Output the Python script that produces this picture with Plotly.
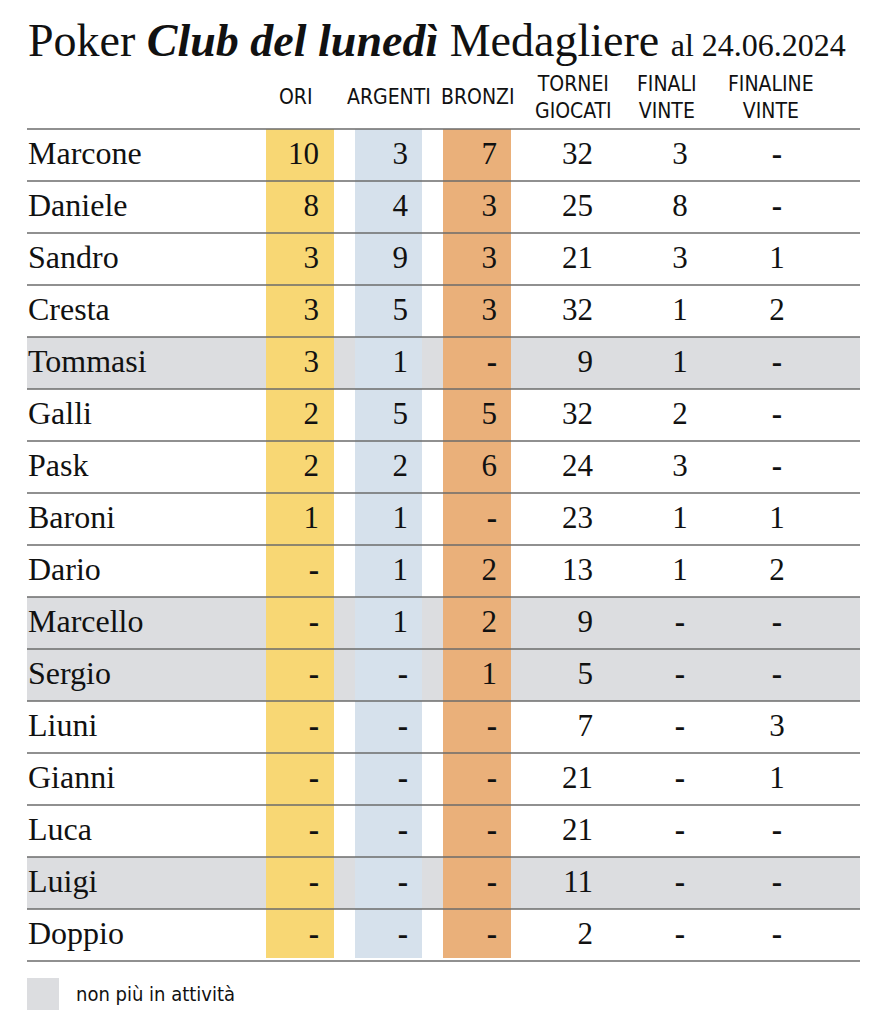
import plotly.graph_objects as go

# Dati del medagliere
nomi = ["Marcone", "Daniele", "Sandro", "Cresta", "Tommasi", "Galli", "Pask", "Baroni",
        "Dario", "Marcello", "Sergio", "Liuni", "Gianni", "Luca", "Luigi", "Doppio"]
ori = [10, 8, 3, 3, 3, 2, 2, 1, None, None, None, None, None, None, None, None]
argenti = [3, 4, 9, 5, 1, 5, 2, 1, 1, 1, None, None, None, None, None, None]
bronzi = [7, 3, 3, 3, None, 5, 6, None, 2, 2, 1, None, None, None, None, None]
tornei = [32, 25, 21, 32, 9, 32, 24, 23, 13, 9, 5, 7, 21, 21, 11, 2]
finali = [3, 8, 3, 1, 1, 2, 3, 1, 1, None, None, None, None, None, None, None]
finaline = [None, None, 1, 2, None, None, None, 1, 2, None, None, 3, 1, None, None, None]
non_attivi = ["Tommasi", "Marcello", "Sergio", "Luigi"]

intestazioni = ["ORI", "ARGENTI", "BRONZI", "TORNEI<br>GIOCATI", "FINALI<br>VINTE", "FINALINE<br>VINTE"]

SERIF = "Liberation Serif"
NARROW = "DejaVu Sans Condensed"

top = 129
row_h = 52
y_rows = [top + row_h * (i + 0.5) + 1 for i in range(len(nomi))]


def fmt(v):
    return "<b>-</b>" if v is None else str(v)


fig = go.Figure()
shapes = []

# righe grigie per i non più in attività
for i, n in enumerate(nomi):
    if n in non_attivi:
        shapes.append(dict(type="rect", x0=27, x1=860, y0=top + i * row_h, y1=top + (i + 1) * row_h,
                           fillcolor="#dcdde0", line_width=0, layer="below"))

# colonne colorate
for x0, x1, col in [(266, 334, "#f8d774"), (355, 422, "#d6e1ec"), (443, 511, "#eab07a")]:
    shapes.append(dict(type="rect", x0=x0, x1=x1, y0=top, y1=top + len(nomi) * row_h - 3,
                       fillcolor=col, line_width=0, layer="below"))

# linee
for i in range(len(nomi) + 1):
    shapes.append(dict(type="line", x0=27, x1=860, y0=top + i * row_h, y1=top + i * row_h,
                       line=dict(color="#6b6b6b", width=1.6)))

# legenda
shapes.append(dict(type="rect", x0=27, x1=59, y0=978, y1=1010, fillcolor="#dcdde0", line_width=0))

# nomi
fig.add_trace(go.Scatter(x=[28] * len(nomi), y=y_rows, mode="text", text=nomi,
                         textposition="middle right",
                         textfont=dict(family=SERIF, size=32, color="#111111"),
                         hoverinfo="skip", showlegend=False))

# colonne numeriche: (valori, x, allineamento)
colonne = [(ori, 319, "middle left"), (argenti, 408, "middle left"), (bronzi, 497, "middle left"),
           (tornei, 593, "middle left"), (finali, 680, "middle center"), (finaline, 777, "middle center")]
for vals, x, pos in colonne:
    fig.add_trace(go.Scatter(x=[x] * len(vals), y=y_rows, mode="text",
                             text=[fmt(v) for v in vals], textposition=pos,
                             textfont=dict(family=SERIF, size=31, color="#111111"),
                             hoverinfo="skip", showlegend=False))

annotations = []
for lab, x in zip(intestazioni, [296, 389, 478, 573, 667, 771]):
    annotations.append(dict(x=x, y=97, text=lab, showarrow=False, xanchor="center", yanchor="middle",
                            font=dict(family=NARROW, size=21, color="#111111")))

annotations.append(dict(x=26, y=40, xanchor="left", yanchor="middle", showarrow=False,
                        text="Poker <b><i>Club del lunedì</i></b> Medagliere <span style='font-size:32px'>al 24.06.2024</span>",
                        font=dict(family=SERIF, size=46, color="#111111")))
annotations.append(dict(x=74, y=994, xanchor="left", yanchor="middle", showarrow=False,
                        text="non più in attività", font=dict(family=NARROW, size=20, color="#111111")))

# la pagina ha un margine di 8px: si compensa spostando gli assi
fig.update_layout(
    width=880, height=1024,
    margin=dict(l=0, r=0, t=0, b=0),
    paper_bgcolor="white", plot_bgcolor="white",
    xaxis=dict(range=[8, 888], visible=False, fixedrange=True),
    yaxis=dict(range=[1032, 8], visible=False, fixedrange=True),
    shapes=shapes, annotations=annotations,
)

fig.write_html("out.html")
